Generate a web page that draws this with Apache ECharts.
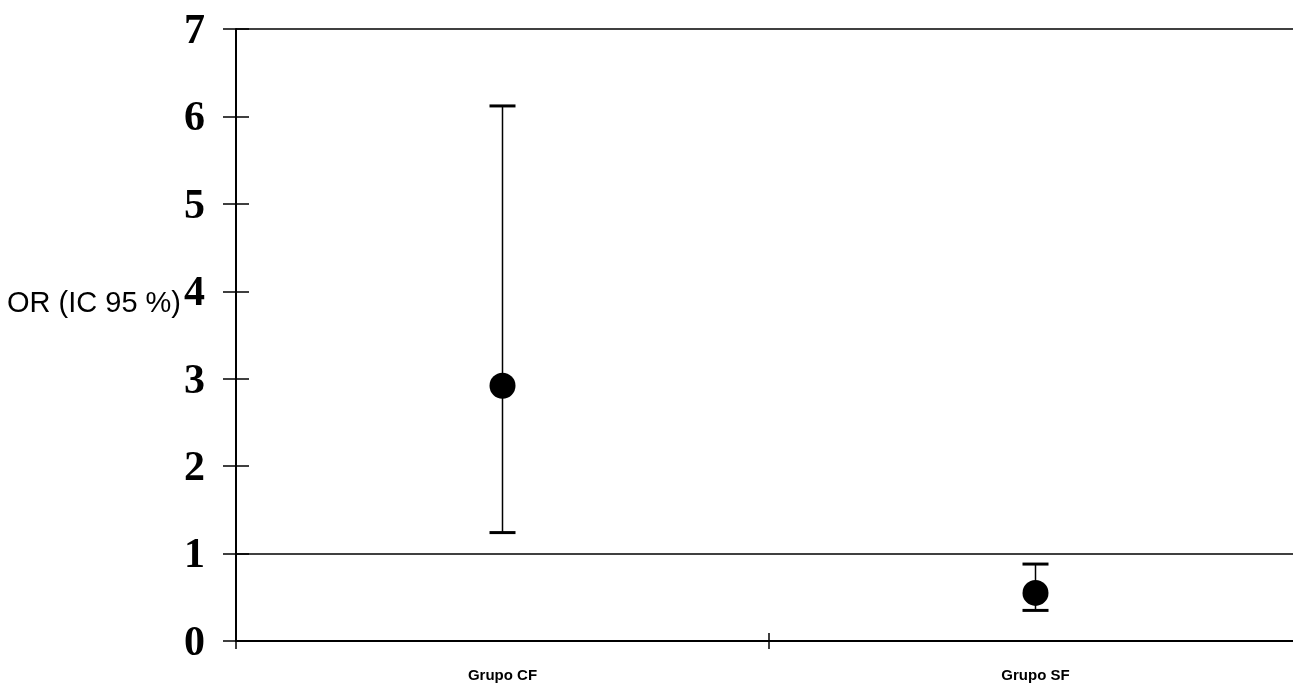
<!DOCTYPE html>
<html>
<head>
<meta charset="utf-8">
<script src="https://cdn.jsdelivr.net/npm/echarts@6/dist/echarts.min.js"></script>
<style>
html,body{margin:0;padding:0;background:#fff;overflow:hidden;}
#main{width:1302px;height:688px;}
</style>
</head>
<body>
<div id="main"></div>
<script>
const categories = ['Grupo CF', 'Grupo SF'];
const orValues = [2.92, 0.55];
const lowerCI = [1.24, 0.35];
const upperCI = [6.12, 0.88];
const yTicks = [0, 1, 2, 3, 4, 5, 6, 7];
const refLines = [1, 7];
const yName = 'OR (IC 95 %)';

const chart = echarts.init(document.getElementById('main'));
const errData = categories.map((c, i) => [i, lowerCI[i], upperCI[i], orValues[i]]);

const serif = '"Liberation Serif", "Times New Roman", serif';
const option = {
  animation: false,
  backgroundColor: '#fff',
  grid: { left: 236, top: 29, right: 0, bottom: 47, containLabel: false },
  graphic: [{
    type: 'text', x: 7, y: 304,
    style: { text: yName, font: '29px "Liberation Sans", Arial, sans-serif', fill: '#000', textVerticalAlign: 'middle', verticalAlign: 'middle' }
  }],
  xAxis: [{
    type: 'category', data: categories, boundaryGap: true,
    axisLine: { lineStyle: { color: '#000', width: 2 } },
    axisTick: { show: true, length: 8, lineStyle: { color: '#000', width: 1.5 } },
    axisLabel: { color: '#000', fontFamily: '"Liberation Sans", Arial, sans-serif', fontWeight: 'bold', fontSize: 15, margin: 27 },
    splitLine: { show: false }
  }, {
    type: 'category', data: categories, boundaryGap: true, position: 'bottom', gridIndex: 0,
    axisLine: { show: false },
    axisTick: { show: true, inside: true, length: 8, lineStyle: { color: '#000', width: 1.5 } },
    axisLabel: { show: false }, splitLine: { show: false }
  }],
  yAxis: [{
    type: 'value', min: 0, max: 7, interval: 1,
    axisLine: { show: true, lineStyle: { color: '#000', width: 2 } },
    axisTick: { show: true, length: 13, lineStyle: { color: '#000', width: 1.5 } },
    axisLabel: {
      color: '#000', margin: 31,
      formatter: v => yTicks.includes(v) ? '{a|' + v + '}' : '',
      rich: { a: { fontFamily: serif, fontWeight: 'bold', fontSize: 42, color: '#000', padding: [6, 0, 0, 0] } }
    },
    splitLine: { show: false }
  }, {
    type: 'value', min: 0, max: 7, interval: 1, position: 'left',
    axisLine: { show: false },
    axisTick: { show: true, inside: true, length: 13, lineStyle: { color: '#000', width: 1.5 } },
    axisLabel: { show: false }, splitLine: { show: false }
  }],
  series: [{
    type: 'custom',
    xAxisIndex: 0, yAxisIndex: 0,
    data: errData,
    renderItem: function (params, api) {
      const x = api.value(0);
      const lo = api.coord([x, api.value(1)]);
      const hi = api.coord([x, api.value(2)]);
      const pt = api.coord([x, api.value(3)]);
      const hw = 13;
      return {
        type: 'group',
        children: [
          { type: 'line', shape: { x1: hi[0], y1: hi[1], x2: lo[0], y2: lo[1] }, style: { stroke: '#000', lineWidth: 1.5 } },
          { type: 'line', shape: { x1: hi[0] - hw, y1: hi[1], x2: hi[0] + hw, y2: hi[1] }, style: { stroke: '#000', lineWidth: 3 } },
          { type: 'line', shape: { x1: lo[0] - hw, y1: lo[1], x2: lo[0] + hw, y2: lo[1] }, style: { stroke: '#000', lineWidth: 3 } },
          { type: 'circle', shape: { cx: pt[0], cy: pt[1], r: 13 }, style: { fill: '#000' } }
        ]
      };
    },
    markLine: {
      silent: true, symbol: 'none', label: { show: false },
      lineStyle: { color: '#000', width: 1.5, type: 'solid' },
      data: refLines.map(v => ({ yAxis: v }))
    }
  }]
};
chart.setOption(option);
</script>
</body>
</html>
